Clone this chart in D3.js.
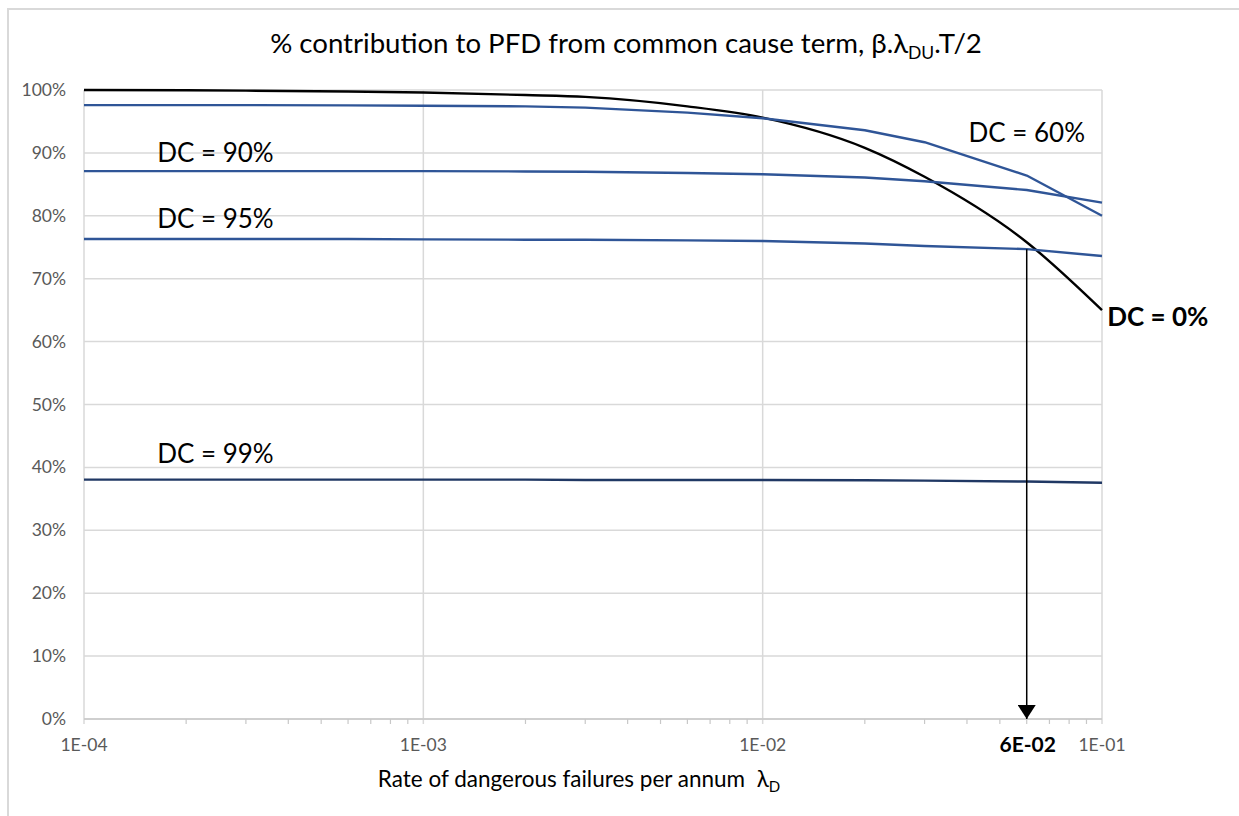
<!DOCTYPE html>
<html>
<head>
<meta charset="utf-8">
<script src="https://cdn.jsdelivr.net/npm/d3@7"></script>
<style>
  html, body { margin: 0; padding: 0; background: #fff; }
  svg { display: block; font-family: Lato, "Open Sans", sans-serif; }
</style>
</head>
<body>
<svg id="chart" width="1239" height="816"></svg>
<script>
// Dangerous failure rate per annum (x, log scale)
const rates = [1e-4, 2e-4, 3e-4, 6e-4, 1e-3, 2e-3, 3e-3, 6e-3, 1e-2, 2e-2, 3e-2, 6e-2, 1e-1];

// % contribution of the common cause term, one series per diagnostic coverage
const dc0  = [100, 99.95, 99.9, 99.75, 99.6, 99.2, 98.9, 97.4, 95.6, 90.8, 86.2, 75.8, 65.0];
const dc60 = [97.6, 97.6, 97.6, 97.55, 97.5, 97.4, 97.2, 96.4, 95.5, 93.6, 91.7, 86.4, 80.0];
const dc90 = [87.1, 87.1, 87.1, 87.1, 87.1, 87.05, 87.0, 86.8, 86.6, 86.1, 85.5, 84.1, 82.1];
const dc95 = [76.3, 76.3, 76.3, 76.3, 76.25, 76.2, 76.2, 76.1, 76.0, 75.6, 75.2, 74.7, 73.6];
const dc99 = [38.05, 38.05, 38.05, 38.05, 38.05, 38.05, 38.0, 38.0, 38.0, 37.95, 37.9, 37.75, 37.55];

const xTicks = [1e-4, 1e-3, 1e-2, 1e-1];
const xTickLabels = ["1E-04", "1E-03", "1E-02", "1E-01"];
const yTicks = [0, 10, 20, 30, 40, 50, 60, 70, 80, 90, 100];

// Marked operating point
const markRate = 6e-2;
const markLabel = "6E-02";

const series = [
  { name: "DC = 0%",  values: dc0,  color: "#000000", smooth: true, label: "DC = 0%",  at: [1.46e-1, 62.5], bold: true },
  { name: "DC = 60%", values: dc60, color: "#2F5597", label: "DC = 60%", at: [6.0e-2, 91.7] },
  { name: "DC = 90%", values: dc90, color: "#2F5597", label: "DC = 90%", at: [2.44e-4, 88.55] },
  { name: "DC = 95%", values: dc95, color: "#2F5597", label: "DC = 95%", at: [2.44e-4, 78.06] },
  { name: "DC = 99%", values: dc99, color: "#203864", label: "DC = 99%", at: [2.44e-4, 40.7] }
];

const svg = d3.select("#chart");

// Chart frame
svg.append("rect")
  .attr("x", 8).attr("y", 9).attr("width", 1240).attr("height", 820)
  .attr("fill", "#fff").attr("stroke", "#d9d9d9").attr("stroke-width", 2);

const x = d3.scaleLog().domain([1e-4, 1e-1]).range([84, 1102]);
const y = d3.scaleLinear().domain([0, 100]).range([719, 90]);

const grid = svg.append("g");
// horizontal gridlines
grid.selectAll("line.h").data(yTicks).join("line")
  .attr("x1", x(1e-4)).attr("x2", x(1e-1))
  .attr("y1", d => y(d)).attr("y2", d => y(d))
  .attr("stroke", "#d9d9d9").attr("stroke-width", 1.5);
// vertical gridlines at decades
grid.selectAll("line.v").data(xTicks).join("line")
  .attr("x1", d => x(d)).attr("x2", d => x(d))
  .attr("y1", y(100)).attr("y2", y(0) + 5)
  .attr("stroke", "#d9d9d9").attr("stroke-width", 1.5);

// x axis line with minor ticks
svg.append("line")
  .attr("x1", x(1e-4)).attr("x2", x(1e-1))
  .attr("y1", y(0)).attr("y2", y(0))
  .attr("stroke", "#c8c8c8").attr("stroke-width", 1.5);
const minor = [];
[1e-4, 1e-3, 1e-2].forEach(dec => { for (let k = 2; k <= 9; k++) minor.push(dec * k); });
svg.selectAll("line.minor").data(minor).join("line")
  .attr("x1", d => x(d)).attr("x2", d => x(d))
  .attr("y1", y(0)).attr("y2", y(0) + 5)
  .attr("stroke", "#c8c8c8").attr("stroke-width", 1.2);

// tick labels
svg.selectAll("text.ytick").data(yTicks).join("text")
  .attr("x", 66).attr("y", d => y(d) + 6)
  .attr("text-anchor", "end")
  .attr("font-size", 17.5).attr("fill", "#595959")
  .text(d => d + "%");

svg.selectAll("text.xtick").data(xTicks).join("text")
  .attr("x", d => x(d)).attr("y", 751)
  .attr("text-anchor", "middle")
  .attr("font-size", 17.5).attr("fill", "#595959")
  .text((d, i) => xTickLabels[i]);

svg.append("text")
  .attr("x", x(markRate) + 1).attr("y", 752)
  .attr("text-anchor", "middle")
  .attr("font-size", 21).attr("font-weight", "bold").attr("fill", "#000")
  .text(markLabel);

// series lines
const line = d3.line()
  .x((d, i) => x(rates[i]))
  .y(d => y(d));
const smoothLine = d3.line()
  .x((d, i) => x(rates[i]))
  .y(d => y(d))
  .curve(d3.curveMonotoneX);

svg.selectAll("path.series").data(series).join("path")
  .attr("d", d => (d.smooth ? smoothLine : line)(d.values))
  .attr("fill", "none")
  .attr("stroke", d => d.color)
  .attr("stroke-width", 2.4)
  .attr("stroke-linejoin", "round");

// arrow from the DC = 95% curve down to the axis
const markIdx = rates.indexOf(markRate);
svg.append("defs").append("marker")
  .attr("id", "arrowhead")
  .attr("viewBox", "0 0 10 10").attr("refX", 10).attr("refY", 5)
  .attr("markerWidth", 14).attr("markerHeight", 18)
  .attr("markerUnits", "userSpaceOnUse")
  .attr("orient", "auto")
  .attr("preserveAspectRatio", "none")
  .append("path").attr("d", "M0,0 L10,5 L0,10 Z").attr("fill", "#000");
svg.append("line")
  .attr("x1", x(markRate)).attr("x2", x(markRate))
  .attr("y1", y(dc95[markIdx])).attr("y2", y(0))
  .attr("stroke", "#000").attr("stroke-width", 1.5)
  .attr("marker-end", "url(#arrowhead)");

// series labels
svg.selectAll("text.series").data(series).join("text")
  .attr("x", d => x(d.at[0])).attr("y", d => y(d.at[1]))
  .attr("text-anchor", "middle")
  .attr("font-size", 26)
  .attr("font-weight", d => d.bold ? "bold" : "normal")
  .attr("fill", "#000")
  .text(d => d.label);

// title
const title = svg.append("text")
  .attr("x", 626).attr("y", 53)
  .attr("text-anchor", "middle")
  .attr("font-size", 27.6).attr("fill", "#000");
title.append("tspan").text("% contribution to PFD from common cause term, β.λ");
title.append("tspan").attr("font-size", 17.5).attr("dy", 6).text("DU");
title.append("tspan").attr("dy", -6).text(".T/2");

// x axis title
const xt = svg.append("text")
  .attr("x", 579).attr("y", 787)
  .attr("text-anchor", "middle")
  .attr("font-size", 22.5).attr("fill", "#000")
  .attr("xml:space", "preserve");
xt.append("tspan").text("Rate of dangerous failures per annum\u00A0\u00A0λ");
xt.append("tspan").attr("font-size", 15).attr("dy", 5).text("D");
</script>
</body>
</html>
